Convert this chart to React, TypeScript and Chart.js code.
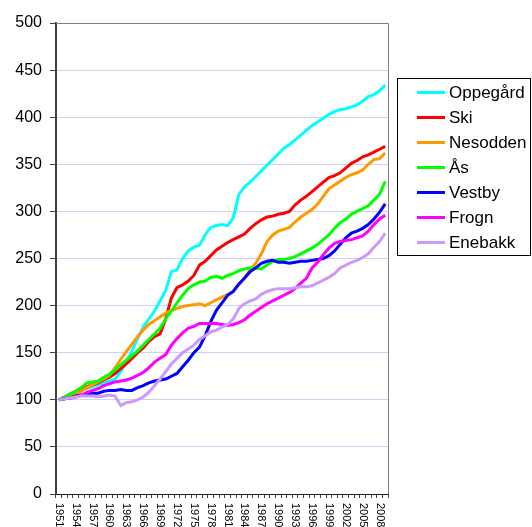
import React, { useEffect, useRef } from "react";
import { Chart, registerables } from "chart.js";

Chart.register(...registerables);

const years = [
  "1951", "1952", "1953", "1954", "1955", "1956", "1957", "1958", "1959", "1960",
  "1961", "1962", "1963", "1964", "1965", "1966", "1967", "1968", "1969", "1970",
  "1971", "1972", "1973", "1974", "1975", "1976", "1977", "1978", "1979", "1980",
  "1981", "1982", "1983", "1984", "1985", "1986", "1987", "1988", "1989", "1990",
  "1991", "1992", "1993", "1994", "1995", "1996", "1997", "1998", "1999", "2000",
  "2001", "2002", "2003", "2004", "2005", "2006", "2007", "2008", "2009",
];

const seriesNames = ["Oppegård", "Ski", "Nesodden", "Ås", "Vestby", "Frogn", "Enebakk"];
const seriesColors = ["#00FFFF", "#FF0000", "#FF9900", "#00FF00", "#0000FF", "#FF00FF", "#CC99FF"];

const oppegard = [
  100, 102, 104, 107, 110, 112, 114, 116, 118, 120,
  122, 130, 140, 152, 165, 177, 186, 194, 205, 216,
  236, 238, 250, 258, 262, 264, 275, 283, 285, 286,
  285, 293, 318, 326, 331, 337, 343, 349, 355, 361,
  367, 371, 376, 381, 386, 391, 395, 399, 403, 406,
  408, 409, 411, 413, 417, 422, 424, 428, 434,
];
const ski = [
  100, 103, 106, 109, 112, 114, 116, 118, 121, 124,
  128, 133, 138, 144, 150, 155, 162, 167, 170, 186,
  208, 219, 222, 226, 232, 243, 247, 253, 259, 263,
  267, 270, 273, 276, 282, 287, 291, 294, 295, 297,
  298, 300, 307, 312, 316, 321, 326, 331, 336, 338,
  341, 346, 351, 354, 358, 360, 363, 366, 369,
];
const nesodden = [
  100, 101, 103, 106, 109, 113, 116, 119, 122, 126,
  134, 143, 151, 159, 167, 174, 180, 184, 188, 192,
  195, 197, 199, 200, 201, 202, 200, 203, 206, 209,
  212, 215, 222, 230, 238, 245, 255, 268, 275, 279,
  281, 283, 289, 294, 298, 302, 308, 316, 324, 328,
  332, 336, 339, 341, 344, 350, 355, 356, 362,
];
const aas = [
  100, 103, 106, 109, 113, 118, 119, 120, 124, 127,
  132, 137, 142, 147, 152, 158, 164, 170, 176, 186,
  194, 203, 211, 218, 222, 225, 226, 230, 231, 229,
  232, 234, 237, 239, 240, 240, 239, 243, 247, 249,
  249, 250, 252, 255, 258, 261, 265, 270, 275, 282,
  288, 292, 297, 300, 303, 306, 312, 318, 332,
];
const vestby = [
  100, 101, 102, 104, 105, 106, 107, 107, 109, 110,
  110, 111, 110, 110, 113, 115, 118, 120, 121, 122,
  125, 128, 135, 142, 150, 156, 168, 183, 195, 203,
  211, 215, 223, 229, 236, 240, 245, 247, 248, 246,
  246, 245, 246, 247, 247, 248, 249, 250, 253, 258,
  265, 272, 277, 279, 282, 286, 292, 299, 308,
];
const frogn = [
  100, 101, 102, 103, 105, 108, 110, 112, 115, 117,
  119, 120, 121, 123, 126, 129, 134, 140, 144, 148,
  158, 165, 171, 176, 178, 181, 181, 181, 181, 180,
  179, 180, 182, 185, 190, 194, 198, 202, 205, 208,
  211, 214, 218, 224, 229, 240, 246, 254, 261, 266,
  268, 269, 270, 272, 274, 279, 286, 292, 296,
];
const enebakk = [
  100, 101, 102, 103, 104, 104, 104, 103, 104, 105,
  104, 94, 97, 98, 100, 103, 108, 115, 122, 130,
  138, 144, 150, 154, 158, 164, 168, 172, 174, 177,
  180, 186, 197, 202, 205, 207, 212, 215, 217, 218,
  218, 218, 219, 220, 220, 221, 224, 227, 230, 234,
  240, 243, 246, 248, 251, 255, 262, 268, 277,
];

const seriesValues = [oppegard, ski, nesodden, aas, vestby, frogn, enebakk];

const yMin = 0;
const yMax = 500;
const yStep = 50;
const xLabelEvery = 3;

const FONT = '"Liberation Sans", Arial, Helvetica, sans-serif';

const frameAndLabelsPlugin = {
  id: "frameAndLabels",
  afterDraw(chart: any) {
    const { ctx, chartArea } = chart;
    const xs = chart.scales.x;
    ctx.save();
    // top and right frame of plot area
    ctx.strokeStyle = "#808080";
    ctx.lineWidth = 1;
    ctx.beginPath();
    ctx.moveTo(chartArea.left, Math.round(chartArea.top) + 0.5);
    ctx.lineTo(Math.round(chartArea.right) + 0.5, Math.round(chartArea.top) + 0.5);
    ctx.lineTo(Math.round(chartArea.right) + 0.5, chartArea.bottom);
    ctx.stroke();

    // rotated x labels (reading downward)
    ctx.fillStyle = "#000";
    ctx.font = `11px ${FONT}`;
    ctx.textAlign = "left";
    ctx.textBaseline = "middle";
    years.forEach((label, i) => {
      if (i % xLabelEvery !== 0) return;
      const x = xs.getPixelForValue(i);
      ctx.save();
      ctx.translate(x, chartArea.bottom + 9);
      ctx.rotate(Math.PI / 2);
      ctx.fillText(label, 0, 0);
      ctx.restore();
    });

    // legend box
    ctx.strokeStyle = "#000";
    ctx.lineWidth = 1;
    ctx.strokeRect(397.5, 78.5, 133, 177);
    ctx.font = `17px ${FONT}`;
    ctx.textAlign = "left";
    ctx.textBaseline = "middle";
    chart.data.datasets.forEach((ds: any, i: number) => {
      const y = 92.5 + i * 25;
      ctx.strokeStyle = ds.borderColor;
      ctx.lineWidth = 3;
      ctx.beginPath();
      ctx.moveTo(417, y);
      ctx.lineTo(445, y);
      ctx.stroke();
      ctx.fillStyle = "#000";
      ctx.fillText(ds.label, 449, y + 1);
    });
    ctx.restore();
  },
};

export default function App() {
  const canvasRef = useRef<HTMLCanvasElement | null>(null);

  useEffect(() => {
    document.body.style.margin = "0";
    document.body.style.overflow = "hidden";
    const canvas = canvasRef.current;
    if (!canvas) return;
    const n = seriesNames.length;
    const chart = new Chart(canvas, {
      type: "line",
      data: {
        labels: years,
        datasets: seriesNames.map((name, i) => ({
          label: name,
          data: seriesValues[i],
          borderColor: seriesColors[i],
          backgroundColor: seriesColors[i],
          borderWidth: 3,
          pointRadius: 0,
          tension: 0,
          fill: false,
          order: n - 1 - i,
        })),
      },
      options: {
        responsive: false,
        animation: false,
        layout: { padding: { top: 23, right: 144, left: 0, bottom: 0 } },
        plugins: {
          legend: { display: false },
          tooltip: { enabled: false },
        },
        scales: {
          x: {
            type: "category",
            offset: true,
            grid: {
              display: true,
              drawOnChartArea: false,
              drawTicks: true,
              tickLength: 4,
              offset: true,
              tickColor: "#404040",
            },
            border: { color: "#202020", width: 1 },
            ticks: { display: false, autoSkip: false },
            afterFit: (s: any) => {
              s.height = 33;
            },
          },
          y: {
            min: yMin,
            max: yMax,
            ticks: {
              stepSize: yStep,
              padding: 8,
              color: "#000",
              font: { family: FONT, size: 16 },
            },
            grid: {
              color: (c: any) => (c.tick && c.tick.value === 0 ? "rgba(0,0,0,0)" : "#d0d0f2"),
              tickColor: "#404040",
              tickLength: 6,
            },
            border: { color: "#404040", width: 2 },
            afterFit: (s: any) => {
              s.width = 56;
            },
          },
        },
      },
      plugins: [frameAndLabelsPlugin],
    });
    return () => chart.destroy();
  }, []);

  return <canvas ref={canvasRef} width={532} height={527} style={{ display: "block" }} />;
}
